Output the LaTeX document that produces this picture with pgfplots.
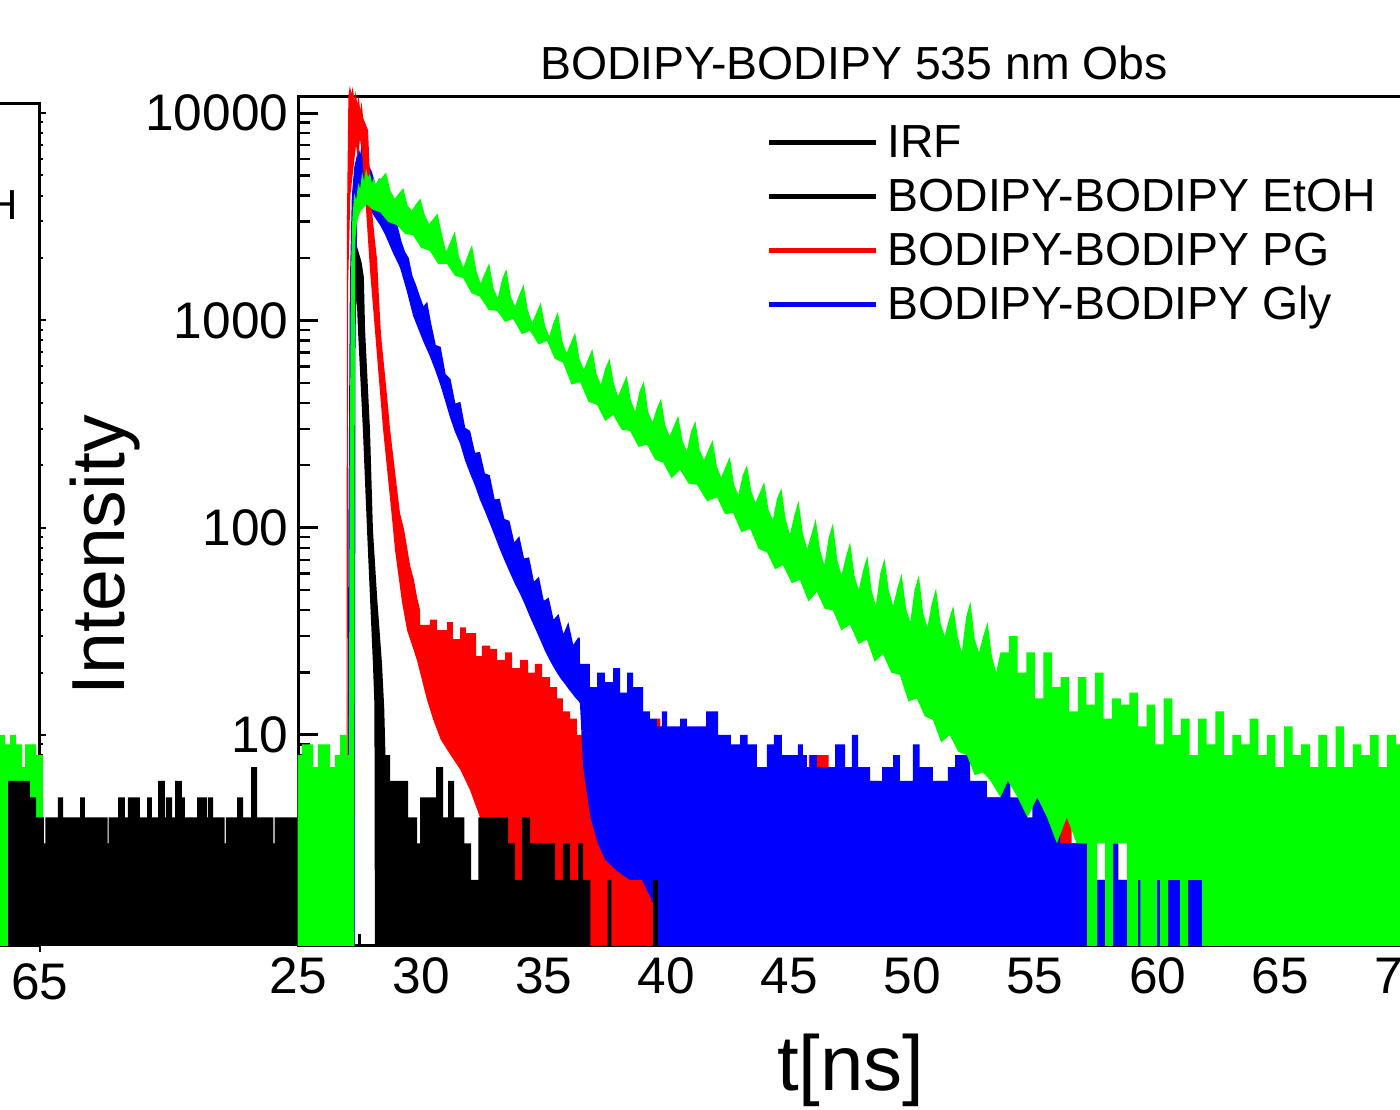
\documentclass[border=0pt]{standalone}
\usepackage{fontspec}
\setmainfont{Liberation Sans}
\usepackage{pgfplots}
\pgfplotsset{compat=1.18}
\definecolor{ogreen}{RGB}{0,255,0}
\definecolor{ored}{RGB}{255,0,0}
\definecolor{oblue}{RGB}{0,0,255}
\begin{document}
\begin{tikzpicture}
\useasboundingbox (0pt,0pt) rectangle (700pt,554.5pt);
\clip (0pt,0pt) rectangle (700pt,554.5pt);

% ---------------- left (partly visible) panel ----------------
\begin{axis}[
  at={(20pt,81.55pt)}, anchor=south east,
  scale only axis, width=400pt, height=420.95pt,
  xmin=32.41, xmax=65, ymode=log, ymin=0.96, ymax=11055,
  clip=false,
  axis line style={line width=1.5pt},
  xtick={65}, xticklabels={65}, xtick pos=bottom,
  ytick pos=right, yticklabels={}, yticklabel style={opacity=0}, tick align=outside,
  major tick length=3pt, minor tick length=1.5pt,
  every tick/.style={line width=1pt, black},
  /pgf/number format/assume math mode=true,
  xticklabel style={font=\fontsize{25.7}{30}\selectfont, yshift=-2.5pt, opacity=1},
]
\addplot[fill=ogreen, draw=none, forget plot] coordinates {
(63.20,0.96)(63.20,10)(63.57,10)(63.57,9)(63.78,9)(63.78,10)(64.02,10)(64.02,9)(64.27,9)(64.27,7)(64.39,7)(64.39,9)(64.84,9)(64.84,8)(65.12,8)(65.12,0.96)};
\addplot[fill=black, draw=none, forget plot] coordinates {
(63.70,0.96)(63.70,6)(64.59,6)(64.59,5)(64.84,5)(64.84,4)(65.16,4)(65.16,3)(65.22,3)(65.22,4)
(65.73,4)(65.73,5)(65.94,5)(65.94,4)(66.63,4)(66.63,5)(66.83,5)(66.83,4)(67.75,4)(67.75,3)(67.80,3)(67.80,4)
(68.18,4)(68.18,5)(68.46,5)(68.46,4)(68.58,4)(68.58,5)(69.07,5)(69.07,4)(69.36,4)(69.36,5)(69.56,5)(69.56,4)
(69.81,4)(69.81,6)(70.09,6)(70.09,4)(70.13,4)(70.13,5)(70.38,5)(70.38,4)(70.50,4)(70.50,6)(70.78,6)(70.78,5)
(70.90,5)(70.90,4)(71.40,4)(71.40,5)(71.80,5)(71.80,4)(71.84,4)(71.84,5)(72.05,5)(72.05,4)(72.52,4)(72.52,3)
(72.57,3)(72.57,4)(73.03,4)(73.03,5)(73.27,5)(73.27,4)(73.60,4)(73.60,7)(73.84,7)(73.84,4)(74.51,4)(74.51,3)
(74.56,3)(74.56,4)(75.47,4)(75.47,0.96)};
\end{axis}
\node[anchor=base east, inner sep=0pt, font=\fontsize{21}{25}\selectfont] at (9pt,444.5pt) {BODIPY-BODIPY EtOH};

% ---------------- main panel ----------------
\begin{axis}[
  at={(149.15pt,81.55pt)}, anchor=south west,
  scale only axis, width=552.4pt, height=424.6pt,
  xmin=25, xmax=70, ymode=log, ymin=0.96, ymax=12000,
  clip=false,
  axis line style={line width=1.5pt},
  xtick={25,30,35,40,45,50,55,60,65,70},
  xticklabels={25,30,35,40,45,50,55,60,65,70},
  minor xtick={27.5,32.5,37.5,42.5,47.5,52.5,57.5,62.5,67.5},
  ytick={10,100,1000,10000}, yticklabels={10,100,1000,10000},
  minor ytick={2,3,4,5,6,7,8,9,20,30,40,50,60,70,80,90,200,300,400,500,600,700,800,900,2000,3000,4000,5000,6000,7000,8000,9000},
  xtick pos=bottom, ytick pos=left, tick align=inside,
  major tick length=10pt, minor tick length=6pt,
  major tick style={line width=1.5pt, black},
  minor tick style={line width=1.2pt, black},
  /pgf/number format/assume math mode=true,
  xticklabel style={font=\fontsize{25.7}{30}\selectfont, yshift=-2.5pt},
  yticklabel style={font=\fontsize{25.7}{30}\selectfont, xshift=-1.5pt},
  title={BODIPY-BODIPY 535 nm Obs},
  title style={at={(axis description cs:0.503,1.0254)}, anchor=center, inner sep=0pt, font=\fontsize{23.2}{27}\selectfont},
  xlabel={t[ns]},
  xlabel style={at={(axis description cs:0.5,-0.147)}, anchor=center, font=\fontsize{39}{45}\selectfont},
  ylabel={Intensity},
  ylabel style={at={(axis description cs:-0.175,0.46)}, anchor=center, font=\fontsize{37.6}{44}\selectfont},
  legend style={at={(axis description cs:0.4234,0.9789)}, anchor=north west, draw=none, fill=none,
    font=\fontsize{23.2}{27}\selectfont, inner sep=0pt, row sep=0pt, column sep=4.5pt,
    nodes={inner sep=0pt, text height=21.25pt, text depth=5.75pt}},
  legend cell align=left,
  legend image code/.code={\draw[#1, line width=2.5pt] (0pt,0pt) -- (53.5pt,0pt);},
]
\addlegendimage{black}
\addlegendimage{black}
\addlegendimage{ored}
\addlegendimage{oblue}

% Gly (blue), rise and decay
\addplot[fill=oblue, draw=none, forget plot] coordinates {
(27.00,0.96)(27.04,100)(27.10,1500)(27.18,4000)(27.28,5500)(27.38,6200)(27.46,6900)(27.52,6300)(27.58,7100)(27.66,6500)(27.74,6000)
(28.00,5210)(28.15,4490)(28.30,4860)(28.45,4020)(28.60,3600)(28.75,3340)(28.90,2980)(29.05,2850)(29.20,2410)(29.35,2140)(29.50,2000)
(29.65,1640)(29.80,1480)(29.95,1310)(30.10,1170)(30.25,1230)(30.40,983)(30.60,761)(30.80,745)(31.00,552)(31.20,522)(31.40,397)
(31.60,405)(31.80,303)(32.00,293)(32.20,230)(32.40,232)(32.60,183)(32.80,179)(33.00,137)(33.20,138)(33.40,110)(33.60,108)
(33.80,85)(34.00,91)(34.20,71)(34.40,72)(34.60,55)(34.80,58)(35.00,44.4)(35.20,46)(35.40,36)(35.60,38.4)(35.80,30.7)(36.00,35)
(36.20,27.2)(36.40,29.5)(36.47,29.5)
(36.47,14.3)(36.27,15.2)(36.07,16.3)(35.86,17.6)(35.66,18.9)(35.46,20.6)(35.25,22.8)
(35.05,25.4)(34.85,28.8)(34.64,32.8)(34.44,37)(34.23,42.5)(34.03,48)(33.82,53.6)(33.62,60.6)(33.42,68.5)(33.22,78)
(33.01,90.5)(32.81,104)(32.60,120)(32.40,136)(32.20,159)(31.99,183)(31.79,211)(31.59,254)(31.38,290)(31.18,340)
(30.98,409)(30.77,494)(30.57,577)(30.36,670)(30.08,796)(29.67,1055)(29.43,1370)(29.14,1800)(28.86,2110)(28.53,2600)
(28.33,2880)(27.92,3410)(27.72,3810)(27.51,4020)(27.40,3000)(27.33,800)(27.30,0.96)};

% PG (red)
\addplot[fill=ored, draw=none, forget plot] coordinates {
(26.96,0.96)(26.98,3000)(27.04,12000)(27.10,13600)(27.16,12400)(27.22,13400)(27.28,11500)(27.34,12800)(27.40,11000)
(27.46,12100)(27.52,10300)(27.58,11300)(27.64,9500)(27.84,8290)(27.92,5020)(28.00,3410)(28.12,2440)(28.21,1955)
(28.29,1255)(28.37,850)(28.49,610)(28.61,437)(28.74,297)(28.86,225)(28.98,170)(29.14,118)(29.31,97.7)(29.43,80.8)
(29.55,66)(29.71,56)(29.84,46)(29.96,40)
(29.96,34)(30.36,34)(30.36,36)(30.65,36)(30.65,32)(31.06,32)(31.06,35)(31.30,35)(31.30,29)(31.59,29)(31.59,33)
(31.83,33)(31.83,31)(32.24,31)(32.24,24)(32.48,24)(32.48,27)(32.81,27)(32.81,26)(33.10,26)(33.10,23)(33.42,23)
(33.42,25)(33.71,25)(33.71,21)(34.03,21)(34.03,23)(34.36,23)(34.36,20)(34.64,20)(34.64,22)(34.93,22)(34.93,19)
(35.25,19)(35.25,17)(35.54,17)(35.54,15)(35.78,15)(35.78,13)(36.07,13)(36.07,12)(36.35,12)(36.35,10)(36.60,10)
(36.60,9)(36.88,9)(36.88,7)(37.17,7)(37.17,6)(37.49,6)(37.49,8)(37.90,8)(37.90,6)(38.30,6)(38.30,9)(38.70,9)
(38.70,7)(39.10,7)(39.10,10)(39.45,10)(39.45,8)(39.60,8)(39.60,12)(39.75,12)(39.75,7)(40.20,7)(40.20,8)(40.60,8)
(40.60,6)(41.00,6)(41.00,9)(41.40,9)(41.40,7)(41.80,7)(41.80,8)(42.20,8)(42.20,9)(42.60,9)(42.60,6)(43.00,6)
(43.00,7)(43.40,7)(43.40,6)(43.80,6)(43.80,7)(44.20,7)(44.20,5)(44.60,5)(44.60,6)(45.00,6)(45.00,7)(45.40,7)
(45.40,5)(45.80,5)(45.80,8)(46.60,8)(46.60,6)(47.00,6)(47.00,5)(47.40,5)(47.40,6)(47.80,6)(47.80,5)(48.20,5)
(48.20,6)(48.60,6)(48.60,5)(49.00,5)(49.00,7)(49.30,7)(49.30,8)(49.50,8)(49.50,5)(50.00,5)(50.00,6)(50.50,6)
(50.50,5)(51.00,5)(51.00,6)(51.50,6)(51.50,7)(51.80,7)(51.80,5)(52.40,5)(52.40,4)(53.00,4)(53.00,5)(53.60,5)
(53.60,4)(54.50,4)(54.50,3)(55.50,3)(55.50,4)(56.50,4)(56.50,3)(57.50,3)(57.50,2)(59.00,2)(59.00,3)(60.00,3)
(60.00,2)(70.00,2)(70.00,0.96)
(32.60,0.96)(32.40,4)(32.00,5.4)(31.60,6.8)(31.20,8)(30.80,9.5)(30.50,11.8)(30.24,14.8)(29.83,23)(29.43,32)
(29.22,44)(28.94,78)(28.82,110)(28.45,300)(28.12,900)(27.92,1750)(27.76,3400)(27.59,6600)(27.51,7500)(27.43,6000)
(27.35,7000)(27.25,5500)(27.12,4000)(27.03,1500)(27.00,0.96)};

% Gly (blue), noise tail
\addplot[fill=oblue, draw=none, forget plot] coordinates {
(36.40,14.8)(36.40,29.5)(36.48,22)(36.88,22)(36.88,17)(37.17,17)(37.17,20)(37.49,20)(37.49,18)(37.82,18)(37.82,21)(38.11,21)(38.11,16)(38.39,16)
(38.39,20)(38.64,20)(38.64,17)(39.04,17)(39.04,13)(39.32,13)(39.32,12)(39.60,12)(39.60,11)(39.81,11)(39.81,13)(40.02,13)
(40.02,11)(40.55,11)(40.55,12)(40.83,12)(40.83,11)(41.61,11)(41.61,13)(42.10,13)(42.10,10)(42.62,10)(42.62,9)(43.00,9)
(43.00,10)(43.30,10)(43.30,9)(43.68,9)(43.68,7)(44.09,7)(44.09,9)(44.37,9)(44.37,10)(44.70,10)(44.70,8)(45.35,8)(45.35,9)
(45.55,9)(45.55,8)(45.71,8)(45.71,7)(45.84,7)(45.84,8)(46.12,8)(46.12,7)(46.86,7)(46.86,9)(47.27,9)(47.27,7)(47.55,7)
(47.55,10)(47.80,10)(47.80,7)(48.29,7)(48.29,6)(48.78,6)(48.78,7)(49.23,7)(49.23,8)(49.50,8)(49.50,6)(50.03,6)(50.03,9)
(50.31,9)(50.31,7)(50.85,7)(50.85,6)(51.46,6)(51.46,7)(51.75,7)(51.75,8)(52.36,8)(52.36,6)(53.05,6)(53.05,5)(53.60,5)
(53.60,6)(54.00,6)(54.00,5)(54.68,5)(54.68,4)(54.90,4)(54.90,5)(56.03,5)(56.03,3)(56.72,3)(56.72,4)(56.84,4)(56.84,3)
(57.50,3)(57.50,2)(57.90,2)(57.90,3)(58.40,3)(58.40,2)(58.80,2)(58.80,3)(59.30,3)(59.30,2)(59.70,2)(59.70,3)(60.20,3)
(60.20,2)(60.60,2)(60.60,3)(61.00,3)(61.00,2)(61.40,2)(61.40,3)(61.73,3)(61.73,2)(70.00,2)(70.00,0.96)
(39.65,0.96)(39.50,1.5)(39.00,2)(38.50,2)(38.00,2.2)(37.50,2.5)(37.20,3)(36.90,4)(36.60,7)(36.47,14.3)};

% IRF / EtOH (black)
\addplot[fill=black, draw=none, forget plot] coordinates {
(27.18,0.96)(27.22,1000)(27.30,2000)(27.40,2250)(27.50,2050)(27.58,1900)(27.67,1620)(27.72,900)(27.92,297)(28.04,97.7)
(28.21,46.3)(28.41,22)(28.50,13.5)(28.55,8)(28.74,8)(28.74,6)(29.47,6)(29.47,4)(29.84,4)(29.84,3)(29.96,3)(29.96,5)
(30.61,5)(30.61,7)(30.90,7)(30.90,4)(31.10,4)(31.10,6)(31.35,6)(31.35,4)(31.76,4)(31.76,3)(32.04,3)(32.04,2)(32.33,2)
(32.33,4)(33.55,4)(33.55,3)(33.83,3)(33.83,2)(34.11,2)(34.11,4)(34.44,4)(34.44,3)(35.46,3)(35.46,2)(35.78,2)(35.78,3)
(36.07,3)(36.07,2)(36.40,2)(36.40,3)(36.60,3)(36.60,2)(36.90,2)(36.90,0.96)
(37.60,0.96)(37.60,2)(37.75,2)(37.75,0.96)(39.45,0.96)(39.45,2)(39.65,2)(39.65,0.96)
(28.12,0.96)(28.10,14)(28.04,22)(27.92,46)(27.80,97)(27.63,297)(27.43,900)(27.38,1300)(27.30,900)(27.26,0.96)};

% unlisted (green)
\addplot[fill=ogreen, draw=none, forget plot] coordinates {
(24.97,0.96)(24.97,8)(25.15,8)(25.15,9)(25.60,9)(25.60,7)(25.80,7)(25.80,9)(26.29,9)(26.29,7)(26.49,7)(26.49,8)
(26.70,8)(26.70,10)(26.98,10)(26.98,8)(27.06,8)
(27.10,300)(27.15,1800)(27.20,3100)(27.28,4100)(27.36,3800)(27.44,4600)(27.52,4300)(27.60,5200)(27.68,4700)
(27.76,5400)(27.84,4900)(27.92,5100)(28.00,4600)(28.08,4900)(28.16,4500)(28.25,4750)
(28.40,4880)(28.575,5170)(28.75,4230)(28.925,3870)(29.10,4100)(29.275,4350)(29.45,3590)(29.625,3390)(29.80,3650)
(29.975,3870)(30.15,3230)(30.325,2920)(30.50,3090)(30.675,3280)(30.85,2600)(31.025,2140)(31.20,2400)(31.375,2690)
(31.55,2020)(31.725,1800)(31.90,2060)(32.075,2310)(32.25,1740)(32.425,1510)(32.60,1690)(32.775,1890)(32.95,1430)
(33.125,1280)(33.30,1580)(33.475,1770)(33.65,1310)(33.825,1170)(34.00,1330)(34.175,1490)(34.35,1120)(34.525,973)
(34.70,1090)(34.875,1220)(35.05,940)(35.225,839)(35.40,980)(35.575,1100)(35.75,800)(35.925,696)(36.10,780)
(36.275,874)(36.45,655)(36.625,580)(36.80,650)(36.975,728)(37.15,550)(37.325,491)(37.50,585)(37.675,655)
(37.85,497)(38.025,431)(38.20,483)(38.375,541)(38.55,408)(38.725,364)(38.90,455)(39.075,510)(39.25,362)
(39.425,323)(39.60,375)(39.775,420)(39.95,311)(40.125,277)(40.30,310)(40.475,347)(40.65,262)(40.825,234)
(41.00,292)(41.175,327)(41.35,237)(41.525,212)(41.70,237)(41.875,265)(42.05,197)(42.225,175)(42.40,196)
(42.575,220)(42.75,161)(42.925,144)(43.10,179)(43.275,200)(43.45,150)(43.625,132)(43.80,148)(43.975,166)
(44.15,122)(44.325,109)(44.50,138)(44.675,155)(44.85,110)(45.025,93)(45.20,114)(45.375,135)(45.55,94)
(45.725,79)(45.90,93)(46.075,110)(46.25,78)(46.425,66)(46.60,89)(46.775,105)(46.95,70)(47.125,59)(47.30,72)
(47.475,85)(47.65,59)(47.825,50)(48.00,62)(48.175,73)(48.35,50)(48.525,42)(48.70,60)(48.875,71)(49.05,50)
(49.225,42)(49.40,51)(49.575,60)(49.75,41)(49.925,35)(50.10,50)(50.275,59)(50.45,39)(50.625,33)(50.80,43)
(50.975,51)(51.15,35)(51.325,30)(51.50,36)(51.675,42)(51.85,30)(52.025,25)(52.20,37)(52.375,44)(52.55,29)
(52.725,25)(52.90,30)(53.075,35)(53.25,24)(53.425,20)(53.60,25)
(53.95,25)(53.95,30)(54.30,30)(54.30,20)(54.65,20)(54.65,25)(55.00,25)(55.00,15)(55.35,15)(55.35,25)(55.70,25)
(55.70,17)(56.05,17)(56.05,19)(56.40,19)(56.40,13)(56.75,13)(56.75,19)(57.10,19)(57.10,14)(57.45,14)(57.45,20)
(57.80,20)(57.80,12)(58.15,12)(58.15,15)(58.50,15)(58.50,14)(58.85,14)(58.85,16)(59.20,16)(59.20,11)(59.55,11)
(59.55,14)(59.90,14)(59.90,9)(60.25,9)(60.25,15)(60.60,15)(60.60,10)(60.95,10)(60.95,12)(61.30,12)(61.30,8)
(61.65,8)(61.65,12)(62.00,12)(62.00,9)(62.35,9)(62.35,13)(62.70,13)(62.70,8)(63.05,8)(63.05,10)(63.40,10)
(63.40,9)(63.75,9)(63.75,12)(64.10,12)(64.10,8)(64.45,8)(64.45,10)(64.80,10)(64.80,7)(65.15,7)(65.15,11)
(65.50,11)(65.50,8)(65.85,8)(65.85,9)(66.20,9)(66.20,7)(66.55,7)(66.55,10)(66.90,10)(66.90,7)(67.25,7)(67.25,11)
(67.60,11)(67.60,7)(67.95,7)(67.95,9)(68.30,9)(68.30,8)(68.65,8)(68.65,10)(69.00,10)(69.00,7)(69.35,7)(69.35,10)
(69.70,10)(69.70,9)(70.00,9)(70.00,0.96)
(61.81,0.96)(61.81,2)(61.24,2)(61.24,0.96)(60.92,0.96)(60.92,2)(60.43,2)(60.43,0.96)(60.10,0.96)(60.10,2)(59.98,2)
(59.98,0.96)(59.30,0.96)(59.30,2)(59.20,2)(59.20,0.96)(58.76,0.96)(58.76,3)(58.19,3)(58.19,0.96)(57.86,0.96)(57.86,3)
(57.54,3)(57.54,0.96)
(57.13,0.96)(57.13,3)(56.70,3)(56.30,4)(55.90,3)(55.50,4)(55.10,5)(54.70,4)(54.30,5)(53.90,6)(53.60,5)(53.20,6)
(52.89,6.6)(52.55,6.4)(52.23,8)(51.88,8.3)(51.53,10)(51.19,9.2)(50.85,11.8)(50.52,12.3)(50.19,15)(49.85,14.5)
(49.50,19.5)(49.15,20)(48.81,24.6)(48.48,22.5)(48.16,28.8)(47.82,27.5)(47.47,34)(47.12,32)(46.77,40)(46.45,40.5)
(46.12,49)(45.78,44)(45.43,56)(45.10,54)(44.74,66)(44.42,63)(44.09,76)(43.75,79)(43.40,99)(43.05,95)(42.71,118)
(42.38,116)(42.06,140)(41.65,134)(41.24,161)(40.90,163)(40.55,190)(40.20,173)(39.86,206)(39.53,213)(39.20,252)
(38.86,245)(38.51,293)(38.17,297)(37.82,350)(37.50,327)(37.17,391)(36.82,405)(36.48,504)(36.13,490)(35.78,626)
(35.45,652)(35.13,796)(34.78,766)(34.44,889)(34.10,860)(33.75,1016)(33.42,983)(33.10,1111)(32.75,1123)(32.40,1300)
(32.05,1355)(31.71,1603)(31.38,1640)(31.06,1870)(30.70,1870)(30.36,2165)(30.00,2240)(29.67,2580)(29.35,2610)
(29.02,2880)(28.67,2980)(28.33,3330)(28.05,3410)(27.80,3620)(27.55,3400)(27.40,3060)(27.32,2440)(27.30,414)(27.28,0.96)};

\legend{IRF,BODIPY-BODIPY EtOH,BODIPY-BODIPY PG,BODIPY-BODIPY Gly}
\end{axis}
\end{tikzpicture}
\end{document}
